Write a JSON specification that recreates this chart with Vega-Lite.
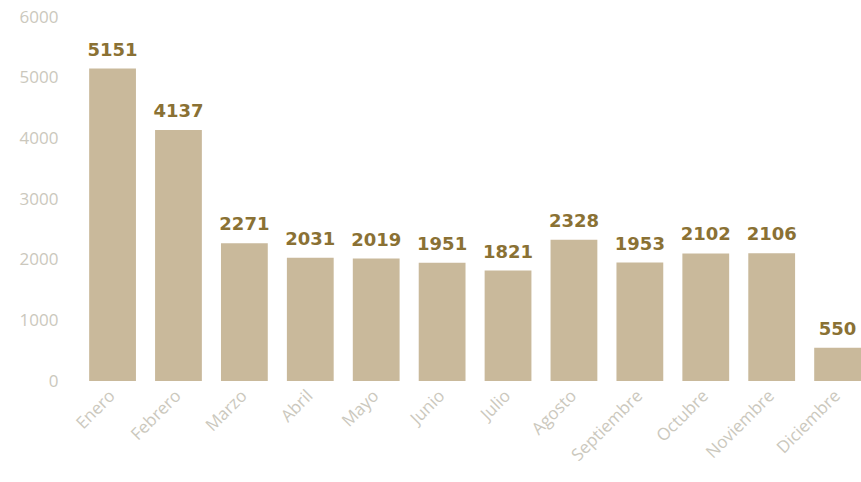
{
  "$schema": "https://vega.github.io/schema/vega-lite/v6.json",
  "width": 782,
  "height": 364,
  "autosize": {"type": "none"},
  "padding": {"left": 79, "top": 17, "right": 0, "bottom": 101},
  "background": "white",
  "config": {"view": {"stroke": null}},
  "data": {"values": [
    {"mes": "Enero", "valor": 5151},
    {"mes": "Febrero", "valor": 4137},
    {"mes": "Marzo", "valor": 2271},
    {"mes": "Abril", "valor": 2031},
    {"mes": "Mayo", "valor": 2019},
    {"mes": "Junio", "valor": 1951},
    {"mes": "Julio", "valor": 1821},
    {"mes": "Agosto", "valor": 2328},
    {"mes": "Septiembre", "valor": 1953},
    {"mes": "Octubre", "valor": 2102},
    {"mes": "Noviembre", "valor": 2106},
    {"mes": "Diciembre", "valor": 550}
  ]},
  "encoding": {
    "x": {
      "field": "mes", "type": "nominal", "sort": null,
      "scale": {"paddingInner": 0.29, "paddingOuter": 0.077, "align": 1},
      "axis": {"title": null, "labelAngle": -45, "labelAlign": "right", "labelBaseline": "middle", "labelPadding": 12, "ticks": false, "domain": false, "labelColor": "#cbc8bd", "labelFont": "Open Sans", "labelFontSize": 17}
    },
    "y": {
      "field": "valor", "type": "quantitative",
      "scale": {"domain": [0, 6000]},
      "axis": {"title": null, "format": "d", "values": [0, 1000, 2000, 3000, 4000, 5000, 6000], "grid": false, "domain": false, "ticks": false, "labelPadding": 21, "labelColor": "#cbc8bd", "labelFont": "Open Sans", "labelFontSize": 17}
    }
  },
  "layer": [
    {"mark": {"type": "bar", "color": "#c9b99b"}},
    {"mark": {"type": "text", "baseline": "bottom", "dy": -9, "font": "DejaVu Sans", "fontWeight": "bold", "fontSize": 18, "color": "#8a7134"},
     "encoding": {"text": {"field": "valor", "type": "quantitative", "format": "d"}}}
  ]
}
